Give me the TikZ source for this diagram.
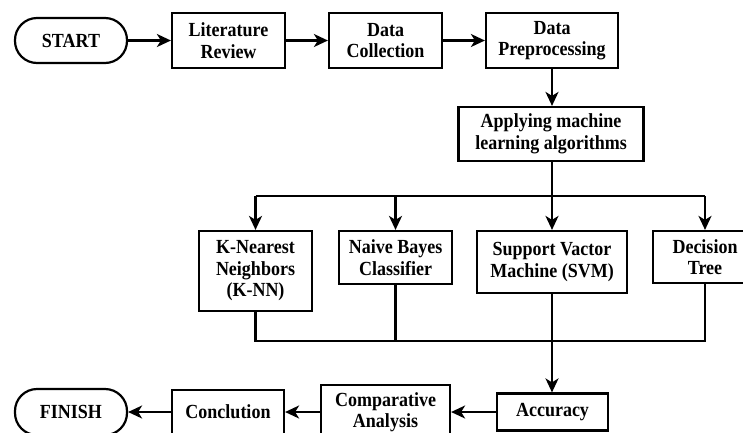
\documentclass[tikz,border=0pt]{standalone}
\usepackage{fontspec}
\setmainfont{Liberation Serif}[FakeStretch=0.9]
\usetikzlibrary{arrows.meta}
\begin{document}
\begin{tikzpicture}[x=1pt,y=-1pt,
  box/.style={draw, line width=2.2pt, inner sep=0pt, align=center,
    font=\bfseries\fontsize{20}{21.5}\selectfont},
  term/.style={box, rounded corners=22pt},
  conn/.style={line width=2.2pt},
  arr/.style={conn, -{Stealth[length=14pt,width=13pt,inset=4pt]}}]
\useasboundingbox (0,0) rectangle (743,432);
% top row
\node[term, minimum width=112pt, minimum height=45pt] (start) at (71,40.5) {START};
\node[box, minimum width=113pt, minimum height=55pt] (lit) at (228.5,40.5) {Literature\\Review};
\node[box, minimum width=113pt, minimum height=55pt] (coll) at (385.5,40.5) {Data\\Collection};
\node[box, minimum width=132pt, minimum height=55pt] (prep) at (552,40.5) {Data\\Preprocessing};
\node[box, minimum width=185pt, minimum height=54pt] (apply) at (551,134) {Applying machine\\learning algorithms};
% algorithms
\node[box, minimum width=113pt, minimum height=80pt] (knn) at (255.5,271) {K-Nearest\\Neighbors\\(K-NN)};
\node[box, minimum width=113pt, minimum height=53pt] (nb) at (395.5,257.5) {Naive Bayes\\Classifier};
\node[box, minimum width=150pt, minimum height=62pt] (svm) at (552,262) {Support Vactor\\Machine (SVM)};
\node[box, minimum width=104pt, minimum height=52pt] (dt) at (705,257) {Decision\\Tree};
% bottom row
\node[box, minimum width=111pt, minimum height=37pt] (acc) at (552.5,412) {Accuracy};
\node[box, minimum width=129pt, minimum height=54pt] (comp) at (385.5,412) {Comparative\\Analysis};
\node[box, minimum width=112pt, minimum height=44pt] (concl) at (228,412) {Conclution};
\node[term, minimum width=112pt, minimum height=46pt] (finish) at (71,412) {FINISH};
% coordinates
\coordinate (sp) at (552,196);
\coordinate (mg) at (552,341);
% connectors
\draw[arr] (start) -- (lit);
\draw[arr] (lit) -- (coll);
\draw[arr] (coll) -- (prep);
\draw[arr] (prep.south) -- (prep.south |- apply.north);
\draw[conn] (apply.south -| sp) -- (sp);
\draw[conn] (knn.north |- sp) -- (dt.north |- sp);
\draw[arr] (knn.north |- sp) -- (knn.north);
\draw[arr] (nb.north |- sp) -- (nb.north);
\draw[arr] (sp) -- (svm.north -| sp);
\draw[arr] (dt.north |- sp) -- (dt.north);
\draw[conn] (knn.south) -- (knn.south |- mg) -- (dt.south |- mg) -- (dt.south);
\draw[conn] (nb.south) -- (nb.south |- mg);
\draw[arr] (svm.south -| mg) -- (mg) -- (acc.north -| mg);
\draw[arr] (acc) -- (comp);
\draw[arr] (comp) -- (concl);
\draw[arr] (concl) -- (finish);
\end{tikzpicture}
\end{document}
